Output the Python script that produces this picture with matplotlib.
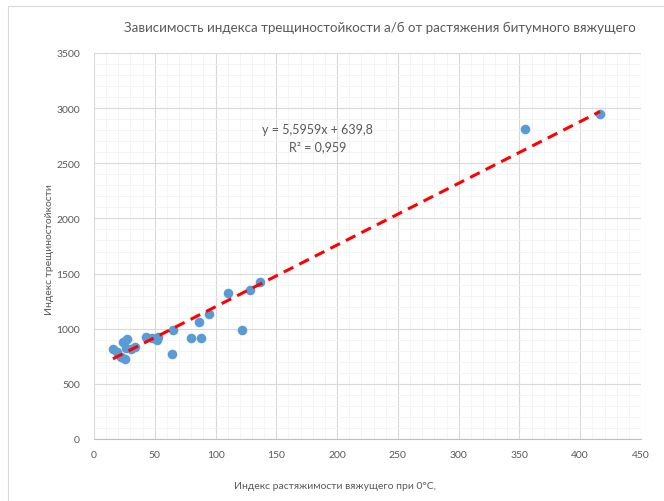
import matplotlib
matplotlib.use("Agg")
import matplotlib.pyplot as plt
from matplotlib.ticker import AutoMinorLocator, MultipleLocator
from matplotlib.patches import Rectangle

# индекс растяжимости вяжущего при 0°C
stretch = [15.6, 18.9, 22.2, 23.9, 25.5, 26.3, 27.1, 30.4, 33.7, 42.8, 47.7,
           51.9, 52.6, 64.2, 65.0, 79.8, 86.4, 88.0, 94.6, 110.2, 121.8,
           128.3, 136.6, 354.6, 416.3]
# индекс трещиностойкости
crack = [816, 786, 743, 879, 725, 825, 907, 816, 834, 925, 916,
         898, 925, 771, 988, 916, 1061, 916, 1133, 1324, 988,
         1351, 1423, 2810, 2946]

slope, intercept = 5.5959, 639.8
eq_text = "y = 5,5959x + 639,8"
r2_text = "R² = 0,959"

title = "Зависимость индекса трещиностойкости а/б от растяжения битумного вяжущего"
xlabel = "Индекс растяжимости вяжущего при 0°С,"
ylabel = "Индекс трещиностойкости"

plt.rcParams['font.family'] = ['Lato', 'DejaVu Sans']
txt = '#595959'

fig = plt.figure(figsize=(6.64, 5.02), dpi=100)
fig.patches.append(Rectangle((8 / 664, -0.1), 1.2, 1 - 7 / 502 + 0.1,
                             transform=fig.transFigure, fill=False,
                             edgecolor='#D9D9D9', linewidth=0.8))
ax = fig.add_axes([94 / 664, 1 - 440 / 502, (641 - 94) / 664, (440 - 54) / 502])

ax.set_xlim(0, 450)
ax.set_ylim(0, 3500)
ax.xaxis.set_major_locator(MultipleLocator(50))
ax.yaxis.set_major_locator(MultipleLocator(500))
ax.xaxis.set_minor_locator(AutoMinorLocator(5))
ax.yaxis.set_minor_locator(AutoMinorLocator(5))
ax.grid(which='major', color='#D9D9D9', linewidth=0.8)
ax.grid(which='minor', color='#F2F2F2', linewidth=0.6)
ax.set_axisbelow(True)
for s in ['top', 'right', 'left']:
    ax.spines[s].set_visible(False)
ax.spines['bottom'].set_color('#BFBFBF')
ax.tick_params(which='both', length=0, colors=txt, labelsize=7.5)
ax.tick_params(axis='x', pad=8)
ax.tick_params(axis='y', pad=10)

ax.scatter(stretch, crack, s=48, color='#5B9BD5', zorder=3, linewidths=0)

xs = [min(stretch), max(stretch)]
ax.plot(xs, [slope * v + intercept for v in xs], color='#FF0000',
        linestyle=(0, (3.5, 2.2)), linewidth=2.2, zorder=4)

ax.text(184, 2810, eq_text, ha='center', va='center', fontsize=9, color=txt)
ax.text(184, 2655, r2_text, ha='center', va='center', fontsize=9, color=txt)

fig.text(380 / 664, 1 - 28 / 502, title, ha='center', va='center',
         fontsize=9.6, color=txt)
fig.text(335 / 664, 1 - 487 / 502, xlabel, ha='center', va='center',
         fontsize=7.5, color=txt)
fig.text(50 / 664, 1 - 250 / 502, ylabel, ha='center', va='center',
         fontsize=7.5, color=txt, rotation=90)

fig.savefig('out.png', dpi=100)
